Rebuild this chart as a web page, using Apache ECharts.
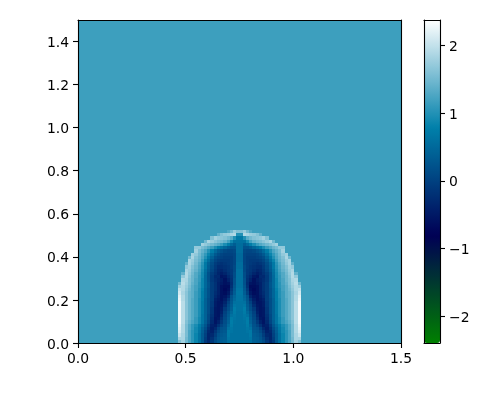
<!DOCTYPE html>
<html><head><meta charset="utf-8">
<style>html,body{margin:0;padding:0;background:#fff}#c{width:477px;height:393px}</style>
<script src="https://cdn.jsdelivr.net/npm/echarts@6/dist/echarts.min.js"></script></head>
<body><div id="c"></div>
<script>
const B = 1.17;
const xTicks = [0, 0.5, 1.0, 1.5];
const yTicks = [0, 0.2, 0.4, 0.6, 0.8, 1.0, 1.2, 1.4];
const barTicks = [-2, -1, 0, 1, 2];
const gridSize = 100;
const span = 1.5;
// right half of the symmetric bubble, bottom row first, centre column first
const halfRows = [
[.6,.6,.6,.6,.4,.35,.3,.15,-.1,-.3,-.1,.3,.6,.85,1.05,1.25,1.5,1.8,1.6],
[.6,.6,.6,.65,.38,.35,.25,.05,-.2,-.35,-.05,.3,.6,.85,1.05,1.25,1.5,1.85,1.85],
[.6,.6,.6,.7,.35,.3,.2,-.05,-.3,-.35,0,.3,.6,.85,1.05,1.25,1.55,1.85,2.05],
[.6,.6,.65,.7,.3,.25,.1,-.15,-.4,-.3,.05,.35,.65,.9,1.05,1.25,1.55,1.9,2.15],
[.6,.6,.68,.6,.25,.2,0,-.3,-.45,-.2,.15,.4,.7,.9,1.1,1.3,1.55,1.9,2.2],
[.6,.6,.72,.5,.2,.05,-.2,-.45,-.4,-.1,.25,.5,.75,.95,1.1,1.3,1.55,1.9,2.25],
[.6,.62,.75,.4,.15,-.1,-.4,-.55,-.3,.05,.35,.65,.9,1.1,1.25,1.4,1.6,1.95,2.3],
[.6,.65,.72,.35,.1,-.2,-.5,-.55,-.25,.1,.4,.65,.9,1.1,1.3,1.45,1.65,1.95,2.3],
[.6,.68,.6,.3,.05,-.3,-.55,-.5,-.2,.1,.4,.65,.95,1.15,1.3,1.45,1.65,1.95,2.3],
[.6,.72,.5,.25,0,-.4,-.55,-.5,-.15,.15,.4,.7,.95,1.15,1.3,1.45,1.65,1.95,2.3],
[.62,.75,.4,.15,-.1,-.45,-.55,-.5,-.15,.15,.4,.7,.95,1.15,1.3,1.45,1.65,1.95,2.3],
[.62,.68,.35,.1,-.25,-.5,-.55,-.45,-.1,.15,.4,.7,.95,1.15,1.3,1.45,1.65,1.95,2.3],
[.62,.6,.3,0,-.35,-.55,-.55,-.45,-.1,.15,.4,.7,.95,1.15,1.3,1.45,1.65,1.95,2.3],
[.65,.5,.25,-.15,-.45,-.6,-.5,-.4,-.05,.15,.4,.75,.95,1.15,1.3,1.45,1.65,1.9,2.25],
[.65,.45,.2,-.35,-.55,-.6,-.45,-.3,-.05,.2,.45,.75,1.0,1.15,1.35,1.45,1.65,1.9,2.2],
[.68,.35,0,-.5,-.65,-.6,-.4,-.25,-.05,.2,.45,.75,1.0,1.15,1.35,1.45,1.65,1.85,2.1],
[.65,.3,-.1,-.6,-.7,-.6,-.4,-.2,-.05,.2,.45,.8,1.0,1.2,1.35,1.5,1.7,1.9,2.0],
[.6,.25,-.2,-.65,-.65,-.6,-.4,-.2,-.05,.25,.5,.85,1.05,1.2,1.35,1.55,1.75,1.9,1.8],
[.6,.2,-.25,-.55,-.6,-.5,-.4,-.2,-.05,.25,.5,.85,1.05,1.25,1.4,1.6,1.8,1.95,1.5],
[.6,.2,-.2,-.4,-.6,-.45,-.35,-.25,-.1,.2,.5,.85,1.1,1.25,1.45,1.6,1.85,1.9],
[.6,.15,-.15,-.3,-.5,-.55,-.3,-.3,-.1,.2,.5,.9,1.1,1.3,1.45,1.65,1.9,1.7],
[.6,.15,-.1,-.2,-.35,-.45,-.35,-.2,-.05,.2,.55,.9,1.15,1.3,1.5,1.7,1.9,1.4],
[.6,.1,-.1,-.15,-.25,-.35,-.3,-.15,.05,.3,.6,.95,1.2,1.4,1.55,1.75,1.85],
[.55,.1,-.05,-.15,-.2,-.25,-.25,-.1,.1,.35,.7,1.0,1.25,1.45,1.6,1.8,1.7],
[.55,.05,-.05,-.1,-.15,-.2,-.15,-.05,.15,.4,.7,1.05,1.3,1.5,1.7,1.85,1.4],
[.5,.05,-.05,-.1,-.1,-.1,-.05,.05,.25,.55,.85,1.15,1.4,1.55,1.75,1.85],
[.5,.05,-.05,-.05,-.05,0,.05,.15,.4,.7,1.0,1.25,1.45,1.6,1.85,1.5],
[.5,.05,0,0,0,.05,.15,.3,.55,.85,1.1,1.3,1.5,1.7,1.8],
[.55,.1,.05,.05,.1,.2,.3,.5,.75,1.0,1.25,1.4,1.55,1.8],
[.55,.2,.2,.3,.45,.6,.75,.95,1.15,1.3,1.45,1.55,1.7,1.7],
[.55,.35,.5,.75,.95,1.15,1.3,1.4,1.5,1.6,1.7,1.8],
[.6,.6,.9,1.2,1.4,1.5,1.55,1.65,1.75,1.85,1.5],
[.7,1.0,1.35,1.5,1.6,1.65,1.7,1.8,1.6],
[1.0,1.9,1.85,1.75,1.7,1.6,1.4],
[1.6,1.75,1.5,1.3]
];
const cells = [];
const cellSize = span / gridSize;
for (let j = 0; j < gridSize; j++) {
  const row = halfRows[j] || [];
  for (let i = 0; i < gridSize; i++) {
    const k = i >= gridSize / 2 ? i - gridSize / 2 : gridSize / 2 - 1 - i;
    cells.push([i * cellSize, j * cellSize, row[k] !== undefined ? row[k] : B]);
  }
}
const font = {color:'#000', fontFamily:'DejaVu Sans', fontSize:13.9};
const line = {show:true, onZero:false, lineStyle:{color:'#000', width:1.1}};
const tick = {show:true, length:5, lineStyle:{color:'#000', width:1.1}};
const frame = (extra) => Object.assign({type:'value', z:10, axisLine:line, axisTick:{show:false}, axisLabel:{show:false}, splitLine:{show:false}}, extra);
const chart = echarts.init(document.getElementById('c'), null, {renderer:'canvas'});
chart.setOption({
  animation:false,
  backgroundColor:'#fff',
  grid:[
    {left:78, top:20, width:323, height:323, containLabel:false},
    {left:424, top:20, width:16, height:323, containLabel:false}
  ],
  visualMap:{
    type:'continuous', min:-2.4, max:2.38, dimension:2, seriesIndex:0, calculable:false, hoverLink:false,
    left:424, top:20, itemWidth:16, itemHeight:323, padding:0, text:null, showLabel:false,
    inRange:{color:['#008000','#000055','#0080aa','#ffffff']}
  },
  xAxis:[
    frame({gridIndex:0, position:'bottom', min:0, max:span,
      axisTick:Object.assign({customValues:xTicks}, tick),
      axisLabel:Object.assign({show:true, margin:9, customValues:xTicks, formatter:v=>v.toFixed(1)}, font)}),
    frame({gridIndex:0, position:'top', min:0, max:span}),
    frame({gridIndex:1, position:'bottom', min:0, max:1}),
    frame({gridIndex:1, position:'top', min:0, max:1})
  ],
  yAxis:[
    frame({gridIndex:0, position:'left', min:0, max:span,
      axisTick:Object.assign({customValues:yTicks}, tick),
      axisLabel:Object.assign({show:true, margin:9, verticalAlign:'top', padding:[-5,0,0,0], customValues:yTicks, formatter:v=>v.toFixed(1)}, font)}),
    frame({gridIndex:0, position:'right', min:0, max:span}),
    frame({gridIndex:1, position:'left', min:-2.4, max:2.38}),
    frame({gridIndex:1, position:'right', min:-2.4, max:2.38,
      axisTick:Object.assign({customValues:barTicks}, tick),
      axisLabel:Object.assign({show:true, margin:9, verticalAlign:'top', padding:[-5,0,0,0], customValues:barTicks, formatter:v=>String(v).replace('-','\u2212')}, font)})
  ],
  series:[{
    type:'custom', xAxisIndex:0, yAxisIndex:0, data:cells, silent:true, progressive:0,
    encode:{x:0, y:1},
    renderItem:(params, api) => {
      const a = api.coord([api.value(0), api.value(1)]);
      const b = api.coord([api.value(0) + cellSize, api.value(1) + cellSize]);
      const x0 = Math.round(a[0]), x1 = Math.round(b[0]);
      const y0 = Math.round(b[1]), y1 = Math.round(a[1]);
      return {type:'rect', shape:{x:x0, y:y0, width:x1 - x0, height:y1 - y0}, style:{fill:api.visual('color')}};
    }
  }]
});
</script></body></html>
